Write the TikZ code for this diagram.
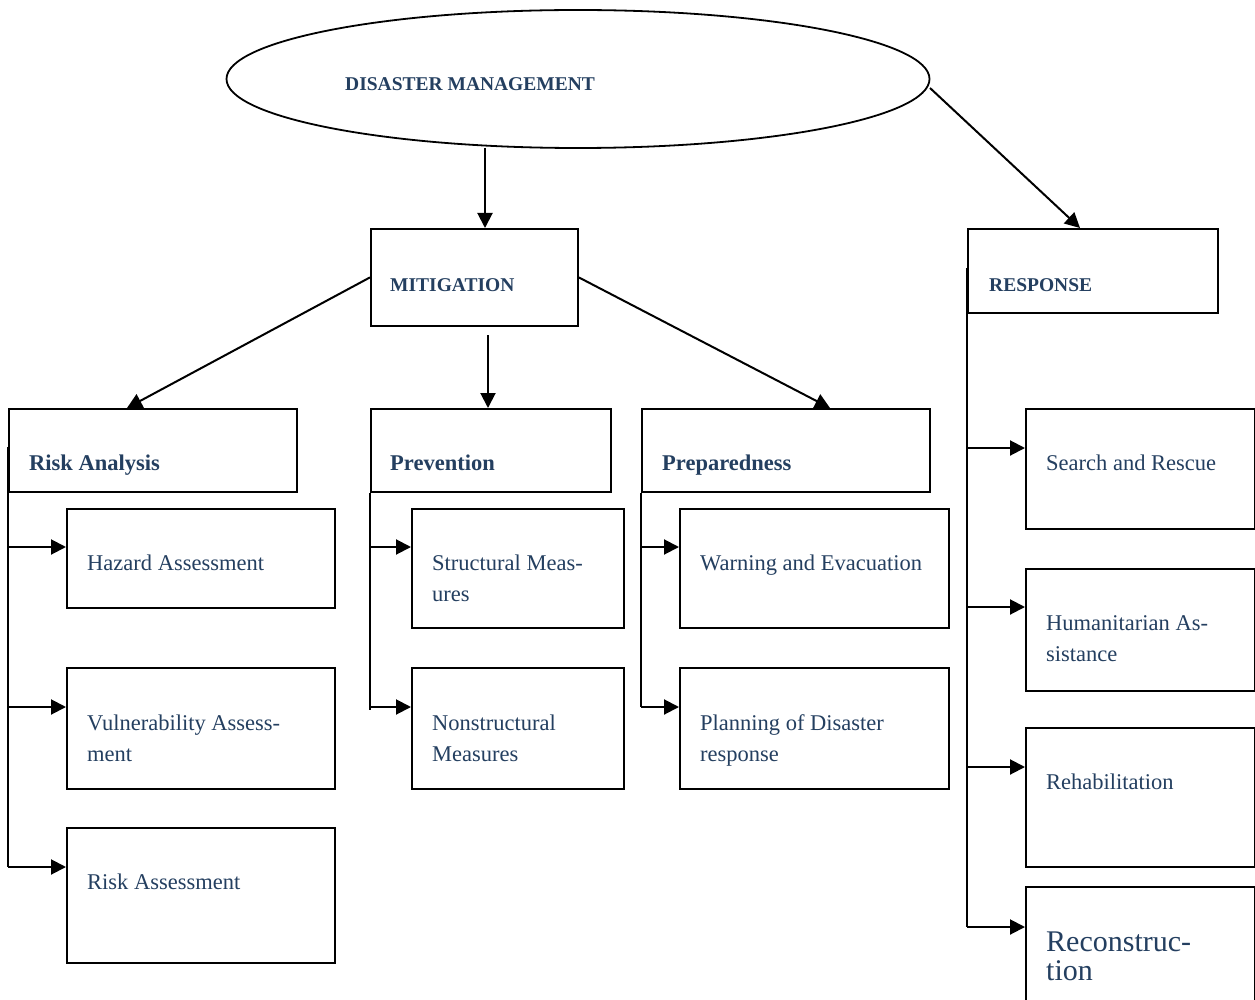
\documentclass[tikz,border=0pt]{standalone}
\usepackage{fontspec}
\setmainfont{Liberation Serif}
\usetikzlibrary{arrows.meta,shapes.geometric}
\definecolor{tcol}{RGB}{36,63,96}
\begin{document}
\begin{tikzpicture}[x=1pt,y=-1pt,
  box/.style={draw, line width=1.8pt, inner sep=0pt, anchor=north west},
  txt/.style={anchor=base west, inner sep=0pt, text=tcol, font=\fontsize{22.5}{31}\selectfont},
  btxt/.style={txt, font=\fontsize{22.5}{31}\selectfont\bfseries},
  ctxt/.style={txt, font=\fontsize{19.5}{24}\selectfont\bfseries},
  bigtxt/.style={txt, font=\fontsize{30}{33}\selectfont},
  arr/.style={line width=2pt, -{Triangle[length=15pt,width=15pt]}},
  tree/.style={line width=2pt}]
\fill[white] (0,0) rectangle (1255,1000);
\useasboundingbox (0,0) rectangle (1255,1000);

% top ellipse
\node[draw, ellipse, line width=1.8pt, minimum width=703pt, minimum height=138pt, inner sep=0pt] (dm) at (578,79) {};
\node[ctxt] (dmt) at (345,91) {DISASTER MANAGEMENT};

% second level
\node[box, minimum width=207pt, minimum height=97pt] (mit) at (370,228) {};
\node[ctxt] (mitt) at (390,291) {MITIGATION};
\node[box, minimum width=250pt, minimum height=84pt] (resp) at (967,228) {};
\node[ctxt] (respt) at (989,291) {RESPONSE};

% third level
\node[box, minimum width=288pt, minimum height=83pt] (ra) at (8,408) {};
\node[btxt] (rat) at (29,470) {Risk Analysis};
\node[box, minimum width=240pt, minimum height=83pt] (prev) at (370,408) {};
\node[btxt] (prevt) at (390,470) {Prevention};
\node[box, minimum width=288pt, minimum height=83pt] (prep) at (641,408) {};
\node[btxt] (prept) at (662,470) {Preparedness};

% risk analysis children
\node[box, minimum width=268pt, minimum height=99pt] (haz) at (66,508) {};
\node[txt] (hazt) at (87,570) {Hazard Assessment};
\node[box, minimum width=268pt, minimum height=121pt] (vul) at (66,667) {};
\node[txt] (vult1) at (87,730) {Vulnerability Assess-};
\node[txt] (vult2) at (87,761) {ment};
\node[box, minimum width=268pt, minimum height=135pt] (rass) at (66,827) {};
\node[txt] (rasst) at (87,889) {Risk Assessment};

% prevention children
\node[box, minimum width=212pt, minimum height=119pt] (str) at (411,508) {};
\node[txt] (strt1) at (432,570) {Structural Meas-};
\node[txt] (strt2) at (432,601) {ures};
\node[box, minimum width=212pt, minimum height=121pt] (non) at (411,667) {};
\node[txt] (nont1) at (432,730) {Nonstructural};
\node[txt] (nont2) at (432,761) {Measures};

% preparedness children
\node[box, minimum width=269pt, minimum height=119pt] (warn) at (679,508) {};
\node[txt] (warnt) at (700,570) {Warning and Evacuation};
\node[box, minimum width=269pt, minimum height=121pt] (plan) at (679,667) {};
\node[txt] (plant1) at (700,730) {Planning of Disaster};
\node[txt] (plant2) at (700,761) {response};

% response children
\node[box, minimum width=229pt, minimum height=120pt] (sar) at (1025,408) {};
\node[txt] (sart) at (1046,470) {Search and Rescue};
\node[box, minimum width=229pt, minimum height=122pt] (hum) at (1025,568) {};
\node[txt] (humt1) at (1046,630) {Humanitarian As-};
\node[txt] (humt2) at (1046,661) {sistance};
\node[box, minimum width=229pt, minimum height=139pt] (reh) at (1025,727) {};
\node[txt] (reht) at (1046,789) {Rehabilitation};
\node[box, minimum width=229pt, minimum height=130pt] (rec) at (1025,886) {};
\node[bigtxt] (rect1) at (1046,951) {Reconstruc-};
\node[bigtxt] (rect2) at (1046,980) {tion};

% connectors from top
\coordinate (dmb) at (485,148);
\coordinate (dmr) at (930,88);
\draw[arr] (dmb) -- (mit.north -| dmb);
\draw[arr] (dmr) -- (resp.north -| 1080,0);

% from mitigation
\coordinate (mitb) at (488,335);
\draw[arr] (mit.west) -- (ra.north -| 127,0);
\draw[arr] (mitb) -- (prev.north -| mitb);
\draw[arr] (mit.east) -- (prep.north -| 830,0);

% risk analysis tree
\draw[tree] (8,447) -- (8,867);
\draw[arr] (8,547) -- (haz.west |- 8,547);
\draw[arr] (8,707) -- (vul.west |- 8,707);
\draw[arr] (8,867) -- (rass.west |- 8,867);

% prevention tree
\draw[tree] (prev.south west) -- (370,710);
\draw[arr] (371,547) -- (str.west |- 0,547);
\draw[arr] (371,707) -- (non.west |- 0,707);

% preparedness tree
\draw[tree] (prep.south west) -- (641,707);
\draw[arr] (641,547) -- (warn.west |- 0,547);
\draw[arr] (641,707) -- (plan.west |- 0,707);

% response tree
\draw[tree] (967,268) -- (967,927);
\draw[arr] (967,448) -- (sar.west |- 0,448);
\draw[arr] (967,607) -- (hum.west |- 0,607);
\draw[arr] (967,767) -- (reh.west |- 0,767);
\draw[arr] (967,927) -- (rec.west |- 0,927);
\end{tikzpicture}
\end{document}
